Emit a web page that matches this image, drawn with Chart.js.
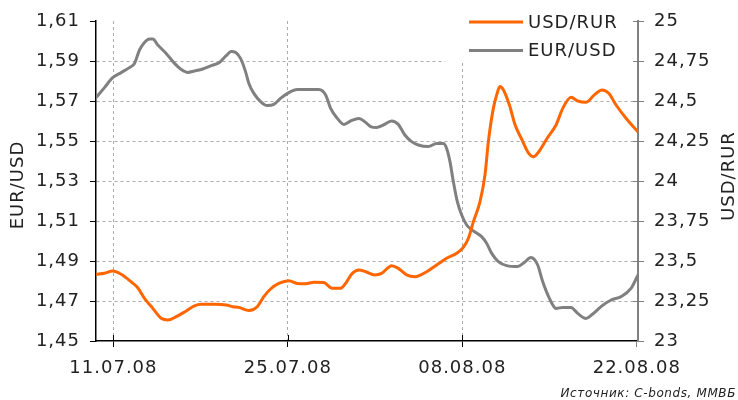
<!DOCTYPE html>
<html>
<head>
<meta charset="utf-8">
<script src="https://cdn.jsdelivr.net/npm/chart.js@4.4.1/dist/chart.umd.min.js"></script>
<style>
  html, body { margin: 0; background: #fff; }
  #wrap { width: 738px; height: 400px; }
</style>
</head>
<body>
<div id="wrap"><canvas id="fxChart" width="738" height="400"></canvas></div>
<script>
// x values are days counted from 11.07.08
const dateLabels = ['11.07.08', '25.07.08', '08.08.08', '22.08.08'];
const dateTicks = [0, 14, 28, 42];

const eurDays = [-1.39, -0.72, -0.06, 0.62, 1.28, 1.69, 2.09, 2.49, 2.89, 3.16, 3.56, 4.23, 4.90, 5.44, 5.97, 6.50, 7.17, 7.85, 8.51, 9.05,
  9.45, 9.80, 10.20, 10.60, 10.87, 11.27, 11.81, 12.34, 12.87, 13.41, 14.08, 14.75, 15.56, 16.49, 17.03, 17.43, 17.97, 18.50, 19.03, 19.70,
  20.24, 20.64, 21.12, 21.66, 22.33, 22.86, 23.39, 23.93, 24.47, 25.27, 25.94, 26.48, 26.74, 27.01, 27.28, 27.60, 27.95, 28.35, 28.89, 29.55,
  29.96, 30.36, 30.89, 31.56, 32.44, 32.98, 33.51, 34.05, 34.45, 34.99, 35.52, 36.06, 36.73, 37.26, 37.93, 38.47, 39.13, 39.94, 40.74, 41.54, 42.10];
const eurUsd = [1.5717, 1.5767, 1.5817, 1.5842, 1.5867, 1.5888, 1.5955, 1.5993, 1.6010, 1.6010, 1.5980, 1.5938, 1.5888, 1.5858, 1.5843, 1.5850, 1.5860, 1.5877, 1.5893, 1.5927,
  1.5947, 1.5943, 1.5913, 1.5847, 1.5788, 1.5738, 1.5697, 1.5677, 1.5683, 1.5713, 1.5742, 1.5757, 1.5757, 1.5757, 1.5730, 1.5663, 1.5613, 1.5583, 1.5600, 1.5613,
  1.5593, 1.5572, 1.5567, 1.5580, 1.5600, 1.5583, 1.5530, 1.5497, 1.5480, 1.5472, 1.5488, 1.5488, 1.5463, 1.5397, 1.5297, 1.5197, 1.5130, 1.5080, 1.5050, 1.5022,
  1.4988, 1.4938, 1.4897, 1.4877, 1.4872, 1.4893, 1.4918, 1.4880, 1.4797, 1.4713, 1.4663, 1.4668, 1.4668, 1.4638, 1.4613, 1.4635, 1.4672, 1.4705, 1.4722, 1.4763, 1.4830];

const rurDays = [-1.39, -0.72, -0.06, 0.62, 1.42, 1.95, 2.49, 3.16, 3.83, 4.36, 5.04, 5.84, 6.50, 7.04, 8.11, 9.05, 9.58, 10.06, 10.87, 11.54,
  12.07, 12.61, 13.27, 14.08, 14.75, 15.42, 16.09, 16.89, 17.56, 18.23, 18.63, 19.17, 19.70, 20.24, 20.98, 21.52, 22.33, 22.86, 23.53, 24.20,
  25.14, 25.94, 26.74, 27.55, 28.08, 28.49, 28.89, 29.42, 29.82, 30.09, 30.49, 30.76, 31.02, 31.30, 31.78, 32.24, 32.80, 33.33, 33.74, 34.14,
  34.81, 35.52, 36.06, 36.73, 37.26, 37.93, 38.60, 39.21, 39.75, 40.34, 41.14, 42.08];
const usdRur = [23.417, 23.423, 23.438, 23.417, 23.370, 23.333, 23.267, 23.204, 23.142, 23.131, 23.152, 23.188, 23.219, 23.229, 23.229, 23.225, 23.214, 23.210, 23.190, 23.214,
  23.277, 23.325, 23.360, 23.377, 23.360, 23.358, 23.367, 23.365, 23.329, 23.329, 23.360, 23.423, 23.444, 23.433, 23.413, 23.423, 23.471, 23.454, 23.413, 23.402,
  23.433, 23.475, 23.517, 23.548, 23.585, 23.642, 23.746, 23.871, 24.038, 24.246, 24.454, 24.538, 24.590, 24.569, 24.475, 24.350, 24.256, 24.173, 24.152, 24.183,
  24.267, 24.350, 24.454, 24.523, 24.500, 24.492, 24.538, 24.569, 24.548, 24.475, 24.392, 24.308];

const FONT = 'DejaVu Sans';
const INK = '#222';
const ORANGE = '#ff6600';
const GREY = '#808080';
const GRID = '#ababab';
const SPACING = '1px';

function commaNum(v) {
    return String(v).replace('.', ',');
}

function isEdge(v, a, b) {
    return Math.abs(v - a) < 1e-6 || Math.abs(v - b) < 1e-6;
}

const decorPlugin = {
    id: 'decor',
    beforeUpdate(chart) {
        chart.ctx.letterSpacing = SPACING;
    },
    beforeDraw(chart) {
        chart.ctx.letterSpacing = SPACING;
    },
    beforeDatasetsDraw(chart) {
        // legend sits on a white patch over the grid
        const ctx = chart.ctx, ca = chart.chartArea;
        ctx.save();
        ctx.fillStyle = '#fff';
        ctx.fillRect(ca.right - 193, ca.top, 192, 41);
        ctx.restore();
    },
    afterDraw(chart) {
        const ctx = chart.ctx, ca = chart.chartArea;
        ctx.save();
        ctx.letterSpacing = SPACING;

        // inner halves of tick marks
        ctx.lineWidth = 1;
        ctx.strokeStyle = GREY;
        chart.scales.y1.ticks.forEach(t => {
            const y = Math.round(chart.scales.y1.getPixelForValue(t.value)) + 0.5;
            ctx.beginPath();
            ctx.moveTo(ca.right - 5, y);
            ctx.lineTo(ca.right, y);
            ctx.stroke();
        });
        ctx.strokeStyle = '#000';
        chart.scales.x.ticks.forEach(t => {
            if (t.value === 42) return;
            const x = Math.round(chart.scales.x.getPixelForValue(t.value)) + 0.5;
            ctx.beginPath();
            ctx.moveTo(x, ca.bottom - 6);
            ctx.lineTo(x, ca.bottom);
            ctx.stroke();
        });

        // axis titles, both read bottom to top
        ctx.fillStyle = INK;
        ctx.font = '18px "' + FONT + '"';
        ctx.textAlign = 'center';
        ctx.textBaseline = 'middle';
        ctx.save();
        ctx.translate(18, 185);
        ctx.rotate(-Math.PI / 2);
        ctx.fillText('EUR/USD', 0, 0);
        ctx.restore();
        ctx.save();
        ctx.translate(729, 176);
        ctx.rotate(-Math.PI / 2);
        ctx.fillText('USD/RUR', 0, 0);
        ctx.restore();

        // legend
        const rows = [['USD/RUR', ORANGE], ['EUR/USD', GREY]];
        ctx.textAlign = 'left';
        rows.forEach((r, i) => {
            const y = ca.top + 1 + i * 28.5;
            ctx.strokeStyle = r[1];
            ctx.lineWidth = 3;
            ctx.beginPath();
            ctx.moveTo(ca.right - 169, y);
            ctx.lineTo(ca.right - 115, y);
            ctx.stroke();
            ctx.fillStyle = INK;
            ctx.fillText(r[0], ca.right - 110, y + 1);
        });

        // source note
        ctx.letterSpacing = '0.6px';
        ctx.font = 'italic 12px "' + FONT + '"';
        ctx.textAlign = 'right';
        ctx.textBaseline = 'alphabetic';
        ctx.fillStyle = INK;
        ctx.fillText('Источник: C-bonds, ММВБ', 736, 397);
        ctx.restore();
    }
};

const ctx = document.getElementById('fxChart');

const fxChart = new Chart(ctx, {
    type: 'line',
    data: {
        datasets: [{
            label: 'USD/RUR',
            data: rurDays.map((d, i) => ({x: d, y: usdRur[i]})),
            yAxisID: 'y1',
            borderColor: ORANGE,
            borderWidth: 3,
            pointRadius: 0,
            cubicInterpolationMode: 'monotone'
        }, {
            label: 'EUR/USD',
            data: eurDays.map((d, i) => ({x: d, y: eurUsd[i]})),
            yAxisID: 'y',
            borderColor: GREY,
            borderWidth: 3,
            pointRadius: 0,
            cubicInterpolationMode: 'monotone'
        }]
    },
    options: {
        responsive: false,
        animation: false,
        layout: {padding: {top: 21, left: 0, right: 0, bottom: 0}},
        plugins: {
            legend: {display: false},
            tooltip: {enabled: false}
        },
        scales: {
            x: {
                type: 'linear',
                min: -1.4,
                max: 42.1,
                afterBuildTicks: s => { s.ticks = dateTicks.map(v => ({value: v})); },
                afterFit: s => { s.height = 59; },
                ticks: {
                    autoSkip: false,
                    maxRotation: 0,
                    padding: 11,
                    color: INK,
                    font: {family: FONT, size: 18},
                    callback: v => dateLabels[dateTicks.indexOf(v)]
                },
                grid: {
                    color: c => (c.tick && c.tick.value === 42) ? 'rgba(0,0,0,0)' : GRID,
                    tickColor: c => (c.tick && c.tick.value === 42) ? GREY : '#000',
                    tickLength: 6,
                    lineWidth: 1
                },
                border: {color: '#000', width: 1.5, dash: [3, 3]}
            },
            y: {
                position: 'left',
                min: 1.45,
                max: 1.61,
                afterFit: s => { s.width = 96; },
                ticks: {
                    stepSize: 0.02,
                    padding: 10,
                    color: INK,
                    font: {family: FONT, size: 18},
                    callback: v => v.toFixed(2).replace('.', ',')
                },
                grid: {
                    color: c => (c.tick && isEdge(c.tick.value, 1.45, 1.61)) ? 'rgba(0,0,0,0)' : GRID,
                    tickColor: '#000',
                    tickLength: 6,
                    lineWidth: 1
                },
                border: {color: '#000', width: 1.5, dash: [3, 3]}
            },
            y1: {
                position: 'right',
                min: 23,
                max: 25,
                afterFit: s => { s.width = 100; },
                ticks: {
                    stepSize: 0.25,
                    padding: 10,
                    color: INK,
                    font: {family: FONT, size: 18},
                    callback: v => commaNum(v)
                },
                grid: {
                    drawOnChartArea: false,
                    tickColor: GREY,
                    tickLength: 6
                },
                border: {color: GREY, width: 2}
            }
        }
    },
    plugins: [decorPlugin]
});
</script>
</body>
</html>
